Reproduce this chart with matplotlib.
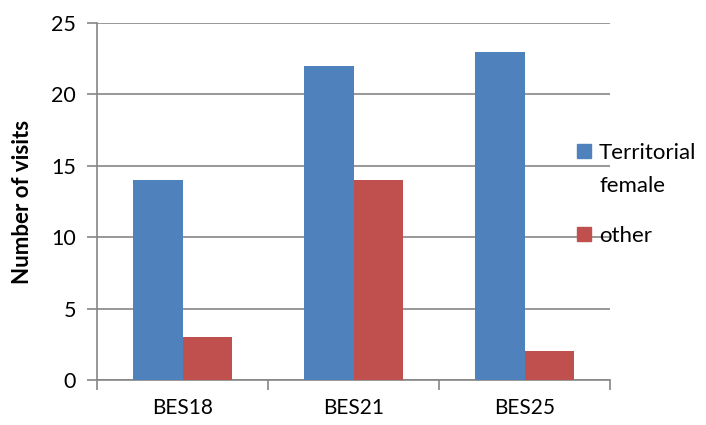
import numpy as np
import matplotlib.pyplot as plt
from matplotlib.patches import Rectangle

plt.rcParams['font.family'] = ['Lato', 'DejaVu Sans']

sites = ['BES18', 'BES21', 'BES25']
territorial = [14, 22, 23]
other = [3, 14, 2]
yticks = [0, 5, 10, 15, 20, 25]

blue = '#4F81BD'
red = '#C0504D'
grey = '#868686'

W, H = 706, 425
fig = plt.figure(figsize=(W / 100, H / 100), dpi=100)
ax = fig.add_axes([97 / W, 45 / H, 513 / W, 357 / H])

x = np.arange(len(sites))
w = 0.287
ax.bar(x - w / 2, territorial, width=w, color=blue, zorder=3)
ax.bar(x + w / 2, other, width=w, color=red, zorder=3)

ax.set_xlim(-0.5, len(sites) - 0.5)
ax.set_ylim(0, 25)
ax.set_yticks(yticks)
ax.yaxis.grid(True, color=grey, linewidth=1.2, zorder=0)

# category labels centred, tick marks on the category boundaries
ax.set_xticks(x)
ax.set_xticklabels(sites, fontsize=15)
ax.tick_params(axis='x', length=0, pad=13)
ax.set_xticks(np.arange(len(sites) + 1) - 0.5, minor=True)
ax.tick_params(axis='x', which='minor', length=7, width=1.2, color=grey)
ax.tick_params(axis='y', length=7, width=1.2, color=grey, labelsize=15.5, pad=8)

for side in ['top', 'right']:
    ax.spines[side].set_visible(False)
for side in ['left', 'bottom']:
    ax.spines[side].set_color(grey)
    ax.spines[side].set_linewidth(1.2)

ax.set_ylabel('Number of visits', fontsize=16, fontweight='bold', labelpad=13)

# legend drawn by hand: swatch lines up with the first line of its label
def legend_entry(color, lines, top):
    fig.add_artist(Rectangle((577 / W, 1 - (top + 14) / H), 14 / W, 14 / H,
                             transform=fig.transFigure, color=color))
    for i, line in enumerate(lines):
        fig.text(599 / W, 1 - (top + 15 + 33 * i) / H, line, fontsize=16,
                 va='baseline', ha='left')

legend_entry(blue, ['Territorial', 'female'], 144)
legend_entry(red, ['other'], 227)

fig.savefig('out.png', dpi=100)
